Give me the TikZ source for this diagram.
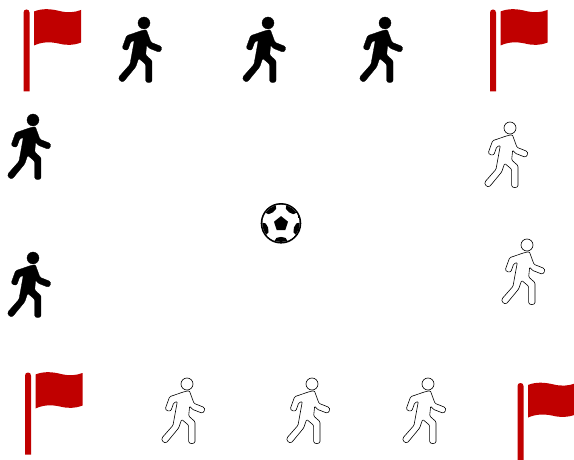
\documentclass[tikz,border=0pt]{standalone}
\definecolor{flagred}{RGB}{192,0,0}
\tikzset{
  x=1pt,y=-1pt,
  walkerbody/.pic={
    \begin{scope}[x=0.3333pt,y=-0.3333pt,line join=round]
      \path[pic actions] (0,0) circle (18);
      \path[pic actions,rounded corners=1.1pt] (-8,23) -- (7,20) -- (21,58) -- (46,68) .. controls (57,73) and (51,90) .. (39,85) -- (16,76) -- (8,66) -- (5,96) -- (24,113) -- (24,169) .. controls (24,181) and (5,181) .. (5,169) -- (5,124) -- (-16,106) -- (-25,132) -- (-58,172) .. controls (-67,181) and (-81,168) .. (-71,157) -- (-42,124) -- (-29,52) -- (-40,57) -- (-46,74) .. controls (-50,85) and (-67,80) .. (-63,68) -- (-52,38) -- cycle;
    \end{scope}
  },
  blackwalker/.style={fill=black,draw=black,line width=0.3pt},
  whitewalker/.style={fill=white,draw=black,line width=0.6pt},
  flagicon/.pic={
    \fill[flagred] (0,82) -- (0,3) .. controls (0,-1) and (6,-1) .. (6,3) -- (6,82) -- cycle;
    \fill[flagred] (10.5,2) .. controls (19,-1.5) and (28,-0.5) .. (36,1.5) .. controls (44,3.5) and (51,3) .. (57.5,0.5) -- (57.5,33) .. controls (50,36) and (43,36) .. (35,34) .. controls (26,32) and (18,32.5) .. (10.5,36) -- cycle;
  },
  ballicon/.pic={
    \fill[black] (0,0) circle (20.3);
    \begin{scope}
      \clip (0,0) circle (18.6);
      \fill[white] (0,0) circle (18.8);
      \foreach \a in {90,162,234,306,18} {
        \fill[black,rotate=-\a] (19.5,-7.5) -- (14.6,-4.6) -- (13.6,0) -- (14.6,4.6) -- (19.5,7.5) -- (21,0) -- cycle;
      }
    \end{scope}
    \fill[black] (0,-7.2) -- (7,-1.6) -- (4.3,6.8) -- (-4.3,6.8) -- (-7,-1.6) -- cycle;
  }
}
\begin{document}
\begin{tikzpicture}
  \useasboundingbox (0,0) rectangle (574,460);
  \pic at (23.5,9.5) {flagicon};
  \pic at (490,9.5) {flagicon};
  \pic at (25,372.5) {flagicon};
  \pic[yscale=0.96] at (517.5,383) {flagicon};
  \pic[blackwalker] at (144,23) {walkerbody};
  \pic[blackwalker] at (268,23) {walkerbody};
  \pic[blackwalker] at (385,23) {walkerbody};
  \pic[blackwalker] at (33,120) {walkerbody};
  \pic[blackwalker] at (33,258) {walkerbody};
  \pic[whitewalker] at (510,128) {walkerbody};
  \pic[whitewalker] at (527,245) {walkerbody};
  \pic[whitewalker] at (187,384) {walkerbody};
  \pic[whitewalker] at (312,384) {walkerbody};
  \pic[whitewalker] at (428,384) {walkerbody};
  \pic at (281,223.3) {ballicon};
\end{tikzpicture}
\end{document}
